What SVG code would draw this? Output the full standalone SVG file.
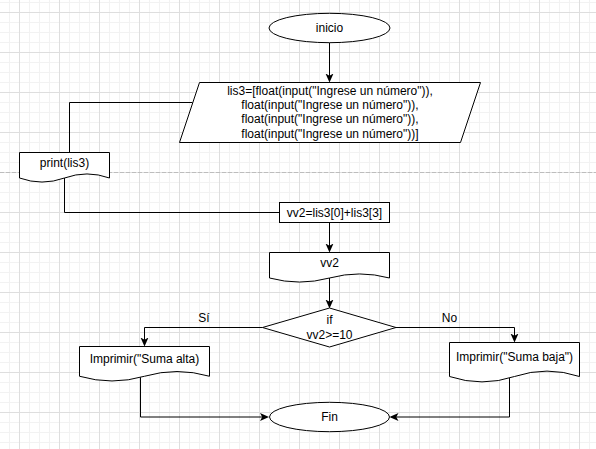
<svg xmlns="http://www.w3.org/2000/svg" width="596" height="449" viewBox="0 0 596 449">
<style>
.shape{fill:#ffffff;stroke:#000000;stroke-width:1}
.edge{fill:none;stroke:#000000;stroke-width:1}
.t{font-family:"Liberation Sans",Arial,Helvetica,sans-serif;font-size:12px;fill:#000000;text-anchor:middle}
</style>
<defs>
<pattern id="grid" x="19" y="12" width="40" height="40" patternUnits="userSpaceOnUse">
<path d="M10.5,0 V40 M20.5,0 V40 M30.5,0 V40 M0,10.5 H40 M0,20.5 H40 M0,30.5 H40" fill="none" stroke="#f2f2f2" stroke-width="1"/>
<path d="M0.5,0 V40 M0,0.5 H40" fill="none" stroke="#dedede" stroke-width="1"/>
</pattern>
<marker id="arrow" markerUnits="userSpaceOnUse" markerWidth="9" markerHeight="9" viewBox="0 0 9 9" refX="7" refY="4.5" orient="auto">
<path d="M0,0.5 L9,4.5 L0,8.5 L2.2,4.5 Z" fill="#000000" stroke="none"/>
</marker>
</defs>
<rect x="0" y="0" width="596" height="449" fill="#ffffff"/>
<rect x="0" y="0" width="596" height="449" fill="url(#grid)"/>
<line x1="0" y1="172.5" x2="596" y2="172.5" stroke="#bdbdbd" stroke-width="1" stroke-dasharray="4 2"/>

<g id="connectors">
<path class="edge" d="M329.5,42.5 V80.5" marker-end="url(#arrow)"/>
<path class="edge" d="M192.5,102.5 H69.5 V152.5"/>
<path class="edge" d="M64.5,178 V212.5 H279.5"/>
<path class="edge" d="M329.5,222.5 V250.5" marker-end="url(#arrow)"/>
<path class="edge" d="M329.5,278 V306.5" marker-end="url(#arrow)"/>
<path class="edge" d="M262.5,327.5 H144.5 V344.5" marker-end="url(#arrow)"/>
<path class="edge" d="M396,327.5 H514.5 V340.5" marker-end="url(#arrow)"/>
<path class="edge" d="M140.5,377 V417 H267" marker-end="url(#arrow)"/>
<path class="edge" d="M509.5,377 V417 H391.5" marker-end="url(#arrow)"/>
<text class="t" x="204" y="321.5">Sí</text>
<text class="t" x="449.5" y="321.5">No</text>
</g>

<g id="inicio">
<ellipse class="shape" cx="329.5" cy="28" rx="60.5" ry="14.7"/>
<text class="t" x="329.5" y="32.2">inicio</text>
</g>

<g id="input-lis3">
<polygon class="shape" points="199.5,82.5 480.5,82.5 460.5,142.5 179.5,142.5"/>
<text class="t" x="330" y="94.6">lis3=[float(input("Ingrese un número")),</text>
<text class="t" x="330" y="109">float(input("Ingrese un número")),</text>
<text class="t" x="330" y="123.4">float(input("Ingrese un número")),</text>
<text class="t" x="330" y="137.8">float(input("Ingrese un número"))]</text>
</g>

<g id="print-lis3">
<path class="shape" d="M19.5,152.5 H109.5 V178 Q87,169.9 64.5,178 Q42,186.1 19.5,178 Z"/>
<text class="t" x="64.5" y="167.2">print(lis3)</text>
</g>

<g id="vv2-assign">
<rect class="shape" x="279.5" y="202.5" width="110" height="20"/>
<text class="t" x="334.5" y="216.7">vv2=lis3[0]+lis3[3]</text>
</g>

<g id="vv2-doc">
<path class="shape" d="M269.5,252.5 H389.5 V278 Q359.5,269.9 329.5,278 Q299.5,286.1 269.5,278 Z"/>
<text class="t" x="329.5" y="267.2">vv2</text>
</g>

<g id="if">
<polygon class="shape" points="329.5,308 396,327.5 329.5,347 262.5,327.5"/>
<text class="t" x="329.5" y="324.2">if</text>
<text class="t" x="329.5" y="338.6">vv2&gt;=10</text>
</g>

<g id="suma-alta">
<path class="shape" d="M79.5,346.5 H209.5 V376.25 Q177,366.8 144.5,376.25 Q112,385.7 79.5,376.25 Z"/>
<text class="t" x="144.5" y="363.2">Imprimir("Suma alta)</text>
</g>

<g id="suma-baja">
<path class="shape" d="M449.5,342.5 H579.5 V376.5 Q547,365.7 514.5,376.5 Q482,387.3 449.5,376.5 Z"/>
<text class="t" x="514.5" y="360.7">Imprimir("Suma baja")</text>
</g>

<g id="fin">
<ellipse class="shape" cx="329.5" cy="417" rx="60" ry="14.7"/>
<text class="t" x="329.5" y="421.2">Fin</text>
</g>
</svg>
